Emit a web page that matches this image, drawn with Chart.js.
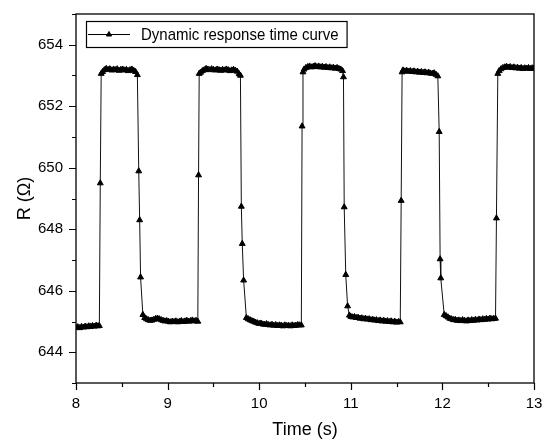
<!DOCTYPE html>
<html>
<head>
<meta charset="utf-8">
<script src="https://cdn.jsdelivr.net/npm/chart.js@4.4.1/dist/chart.umd.min.js"></script>
<style>
  html, body { margin: 0; padding: 0; background: #fff; }
  #c { display: block; }
</style>
</head>
<body>
<canvas id="c" width="543" height="441"></canvas>
<script>
// ---- Data ----
const seriesLabel = "Dynamic response time curve";
const xTitle = "Time (s)";
const yTitle = "R (\u03A9)";

const time = [
  // low 1
  8.00, 8.02, 8.04, 8.06, 8.08, 8.10, 8.12, 8.14, 8.16, 8.18, 8.20, 8.22, 8.24, 8.255,
  // rise 1
  8.265, 8.275,
  // high 1
  8.29, 8.31, 8.33, 8.35, 8.37, 8.39, 8.41, 8.43, 8.45, 8.47, 8.49, 8.51, 8.53, 8.55, 8.57, 8.59, 8.61, 8.63, 8.65, 8.67,
  // fall 1
  8.685, 8.695, 8.705, 8.73,
  // low 2
  8.75, 8.77, 8.79, 8.81, 8.83, 8.85, 8.87, 8.89, 8.91, 8.93, 8.95, 8.97, 8.99, 9.01, 9.03, 9.05, 9.07, 9.09, 9.11, 9.13,
  9.15, 9.17, 9.19, 9.21, 9.23, 9.25, 9.27, 9.29, 9.31, 9.33,
  // rise 2
  9.338, 9.345,
  // high 2
  9.36, 9.38, 9.40, 9.42, 9.44, 9.46, 9.48, 9.50, 9.52, 9.54, 9.56, 9.58, 9.60, 9.62, 9.64, 9.66, 9.68, 9.70, 9.72, 9.74,
  9.76, 9.78,
  // fall 2
  9.795, 9.805, 9.815, 9.83, 9.86,
  // low 3
  9.88, 9.90, 9.92, 9.94, 9.96, 9.98, 10.00, 10.02, 10.04, 10.06, 10.08, 10.10, 10.12, 10.14, 10.16, 10.18, 10.20, 10.22,
  10.24, 10.26, 10.28, 10.30, 10.32, 10.34, 10.36, 10.38, 10.40, 10.42, 10.44,
  // rise 3
  10.46, 10.468, 10.478,
  // high 3
  10.49, 10.51, 10.53, 10.55, 10.57, 10.59, 10.61, 10.63, 10.65, 10.67, 10.69, 10.71, 10.73, 10.75, 10.77, 10.79, 10.81,
  10.83, 10.85, 10.87, 10.89, 10.91,
  // fall 3
  10.92, 10.928, 10.945, 10.965, 10.985,
  // low 4
  11.00, 11.02, 11.04, 11.06, 11.08, 11.10, 11.12, 11.14, 11.16, 11.18, 11.20, 11.22, 11.24, 11.26, 11.28, 11.30, 11.32,
  11.34, 11.36, 11.38, 11.40, 11.42, 11.44, 11.46, 11.48, 11.50, 11.52, 11.54,
  // rise 4
  11.55, 11.56,
  // high 4
  11.57, 11.59, 11.61, 11.63, 11.65, 11.67, 11.69, 11.71, 11.73, 11.75, 11.77, 11.79, 11.81, 11.83, 11.85, 11.87, 11.89,
  11.91, 11.93, 11.95,
  // fall 4
  11.965, 11.975, 11.982, 12.02,
  // low 5
  12.04, 12.06, 12.08, 12.10, 12.12, 12.14, 12.16, 12.18, 12.20, 12.22, 12.24, 12.26, 12.28, 12.30, 12.32, 12.34, 12.36,
  12.38, 12.40, 12.42, 12.44, 12.46, 12.48, 12.50, 12.52, 12.54, 12.56, 12.58,
  // rise 5
  12.59, 12.605,
  // high 5
  12.62, 12.64, 12.66, 12.68, 12.70, 12.72, 12.74, 12.76, 12.78, 12.80, 12.82, 12.84, 12.86, 12.88, 12.90, 12.92, 12.94,
  12.96, 12.98, 13.00
];

const resistance = [
  // low 1
  644.80, 644.82, 644.79, 644.83, 644.81, 644.84, 644.82, 644.85, 644.83, 644.86, 644.84, 644.87, 644.85, 644.86,
  // rise 1
  649.50, 653.06,
  // high 1
  653.12, 653.18, 653.22, 653.19, 653.21, 653.17, 653.20, 653.18, 653.21, 653.16, 653.19, 653.20, 653.17, 653.19, 653.15,
  653.18, 653.20, 653.16, 653.12, 653.02,
  // fall 1
  649.89, 648.30, 646.44, 645.22,
  // low 2
  645.12, 645.08, 645.05, 645.03, 645.04, 645.06, 645.09, 645.10, 645.08, 645.05, 645.03, 645.01, 645.02, 645.00, 644.98,
  645.00, 644.99, 645.01, 644.98, 645.00, 645.02, 644.99, 645.01, 645.03, 645.00, 645.02, 645.04, 645.01, 645.03, 645.00,
  // rise 2
  649.76, 653.06,
  // high 2
  653.10, 653.15, 653.18, 653.22, 653.20, 653.18, 653.21, 653.19, 653.17, 653.20, 653.18, 653.16, 653.19, 653.17, 653.20,
  653.18, 653.15, 653.17, 653.19, 653.16, 653.13, 653.05,
  // fall 2
  653.00, 648.74, 647.53, 646.34, 645.12,
  // low 3
  645.08, 645.05, 645.02, 645.00, 644.97, 644.95, 644.93, 644.94, 644.91, 644.90, 644.92, 644.89, 644.88, 644.90, 644.87,
  644.89, 644.86, 644.88, 644.87, 644.85, 644.88, 644.86, 644.87, 644.85, 644.88, 644.86, 644.87, 644.89, 644.88,
  // rise 3
  644.88, 651.35, 653.11,
  // high 3
  653.20, 653.25, 653.28, 653.30, 653.27, 653.29, 653.31, 653.28, 653.30, 653.27, 653.29, 653.26, 653.28, 653.25, 653.27,
  653.24, 653.26, 653.23, 653.25, 653.22, 653.20, 653.15,
  // fall 3
  652.95, 648.72, 646.52, 645.50, 645.20,
  // low 4
  645.16, 645.14, 645.15, 645.12, 645.13, 645.10, 645.11, 645.08, 645.10, 645.07, 645.08, 645.05, 645.06, 645.04, 645.05,
  645.02, 645.04, 645.01, 645.03, 645.00, 645.02, 644.99, 645.01, 644.98, 645.00, 644.97, 644.99, 644.98,
  // rise 4
  648.93, 653.11,
  // high 4
  653.17, 653.14, 653.16, 653.13, 653.15, 653.12, 653.14, 653.11, 653.13, 653.10, 653.12, 653.09, 653.11, 653.08, 653.10,
  653.07, 653.06, 653.08, 653.03, 652.98,
  // fall 4
  651.17, 647.03, 646.41, 645.22,
  // low 5
  645.18, 645.14, 645.10, 645.08, 645.05, 645.06, 645.03, 645.04, 645.02, 645.05, 645.03, 645.01, 645.04, 645.02, 645.05,
  645.03, 645.06, 645.04, 645.07, 645.05, 645.08, 645.06, 645.09, 645.07, 645.10, 645.08, 645.09, 645.10,
  // rise 5
  648.36, 653.06,
  // high 5
  653.15, 653.21, 653.25, 653.27, 653.29, 653.26, 653.28, 653.25, 653.27, 653.24, 653.26, 653.23, 653.25, 653.22, 653.24,
  653.23, 653.25, 653.22, 653.24, 653.23
];

const xRange = [8, 13];
const yRange = [643, 655];

// ---- Chart ----
const FONT = "'Liberation Sans', Arial, Helvetica, sans-serif";
const points = time.map((t, i) => ({ x: t, y: resistance[i] }));

const frameAndTicks = {
  id: 'frameAndTicks',
  afterDraw(chart) {
    const ctx = chart.ctx;
    const a = chart.chartArea;
    const xs = chart.scales.x, ys = chart.scales.y;
    ctx.save();
    ctx.strokeStyle = '#000';
    ctx.lineWidth = 1.3;
    ctx.strokeRect(a.left, a.top, a.right - a.left, a.bottom - a.top);
    ctx.lineWidth = 1.2;
    ctx.beginPath();
    xs.ticks.forEach(t => {
      const major = Number.isInteger(t.value);
      const px = Math.round(xs.getPixelForValue(t.value)) + 0.5;
      ctx.moveTo(px, a.bottom);
      ctx.lineTo(px, a.bottom + (major ? 7 : 4));
    });
    ys.ticks.forEach(t => {
      const major = t.value % 2 === 0;
      const py = Math.round(ys.getPixelForValue(t.value)) + 0.5;
      ctx.moveTo(a.left, py);
      ctx.lineTo(a.left - (major ? 7 : 4), py);
    });
    ctx.stroke();

    // legend inside the plot area
    const ds = chart.data.datasets[0];
    const lx = a.left + 10, ly = a.top + 7, lh = 26;
    ctx.font = "15px " + FONT;
    const tw = ctx.measureText(ds.label).width;
    const textX = lx + 55;
    const lw = textX - lx + tw + 8;
    ctx.fillStyle = '#fff';
    ctx.fillRect(lx, ly, lw, lh);
    ctx.lineWidth = 1.2;
    ctx.strokeStyle = '#000';
    ctx.strokeRect(lx + 0.5, ly + 0.5, lw, lh);
    const cy = ly + lh / 2 + 0.5;
    ctx.lineWidth = 1;
    ctx.beginPath();
    ctx.moveTo(lx + 2, cy);
    ctx.lineTo(lx + 44, cy);
    ctx.stroke();
    ctx.fillStyle = '#000';
    Chart.helpers.drawPoint(ctx, { pointStyle: 'triangle', radius: 3, borderWidth: 1, rotation: 0 }, lx + 23, cy);
    ctx.fillStyle = '#000';
    ctx.textBaseline = 'middle';
    ctx.textAlign = 'left';
    ctx.save();
    ctx.translate(textX, cy + 1);
    ctx.scale(1, 1.12);
    ctx.fillText(ds.label, 0, 0);
    ctx.restore();
    ctx.restore();
  }
};

new Chart(document.getElementById('c'), {
  type: 'line',
  data: {
    datasets: [{
      label: seriesLabel,
      data: points,
      borderColor: '#111',
      borderWidth: 1,
      tension: 0,
      pointStyle: 'triangle',
      pointRadius: 3.4,
      pointBorderWidth: 1,
      pointBackgroundColor: '#000',
      pointBorderColor: '#000',
      fill: false
    }]
  },
  options: {
    responsive: false,
    animation: false,
    devicePixelRatio: 1,
    layout: { padding: { left: 0, right: 9, top: 14, bottom: 0 } },
    plugins: { legend: { display: false }, tooltip: { enabled: false } },
    scales: {
      x: {
        type: 'linear',
        min: xRange[0], max: xRange[1],
        grid: { display: false, drawTicks: false },
        border: { display: false },
        ticks: {
          stepSize: 0.5,
          padding: 12,
          color: '#000',
          font: { family: FONT, size: 15 },
          callback: v => Number.isInteger(v) ? String(v) : ''
        },
        title: { display: true, text: xTitle, color: '#000', font: { family: FONT, size: 18 }, padding: { top: 0, bottom: 0 } },
        afterFit: s => { s.height = 58; s.paddingLeft = 0; s.paddingRight = 0; }
      },
      y: {
        type: 'linear',
        min: yRange[0], max: yRange[1],
        grid: { display: false, drawTicks: false },
        border: { display: false },
        ticks: {
          stepSize: 1,
          padding: 13,
          color: '#000',
          font: { family: FONT, size: 15 },
          callback: v => (v % 2 === 0) ? String(v) : ''
        },
        title: { display: true, text: yTitle, color: '#000', font: { family: FONT, size: 18 }, padding: { top: 14, bottom: 0 } },
        afterFit: s => { s.width = 76; s.paddingTop = 0; s.paddingBottom = 0; }
      }
    }
  },
  plugins: [frameAndTicks]
});
</script>
</body>
</html>
